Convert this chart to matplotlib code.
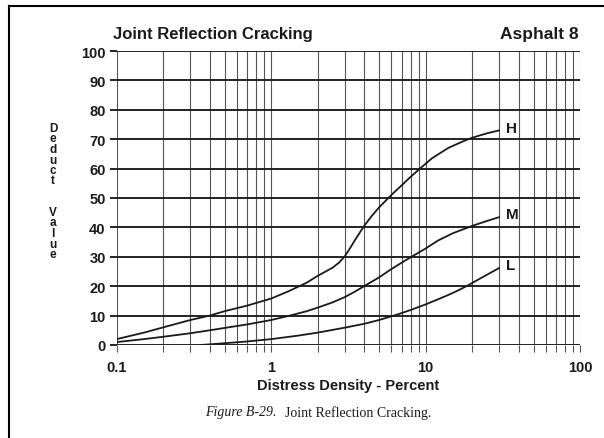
import numpy as np
import matplotlib.pyplot as plt
from matplotlib.lines import Line2D

# deduct value curves (distress density in percent, log scale)
h_density = [0.1, 0.15, 0.2, 0.3, 0.4, 0.5, 0.7, 1.0, 1.3, 1.7, 2.0, 2.5, 2.75, 3.0,
             3.25, 3.5, 4.0, 4.5, 5.0, 5.5, 6.0, 7.0, 8.0, 9.2, 11, 14, 17, 20, 25, 30]
h_deduct = [2, 4.2, 6, 8.5, 10, 11.5, 13.4, 15.8, 18.3, 21.2, 23.5, 26.3, 28, 30.2,
            33, 35.8, 40.5, 44, 46.8, 49, 51, 54.3, 57.2, 60, 63.5, 67, 69, 70.5, 72, 73]

m_density = [0.1, 0.15, 0.2, 0.3, 0.4, 0.5, 0.7, 1.0, 1.3, 1.7, 2.0, 2.5, 3.0, 3.5,
             4.0, 5.0, 6.0, 7.0, 8.1, 10, 12, 15, 20, 25, 30]
m_deduct = [1, 2, 2.8, 4, 5, 5.8, 7, 8.5, 9.9, 11.5, 12.7, 14.5, 16.3, 18.2,
            20, 23, 25.8, 28, 30, 32.8, 35.5, 38, 40.5, 42.2, 43.5]

l_density = [0.35, 0.5, 0.7, 1.0, 1.5, 2.0, 3.0, 4.0, 5.0, 6.5, 8.0, 10, 12, 14,
             16, 18.7, 22, 26, 30]
l_deduct = [0, 0.6, 1.2, 2, 3.2, 4.2, 5.9, 7.2, 8.5, 10.3, 11.9, 13.8, 15.5, 17,
            18.4, 20.2, 22.3, 24.4, 26.2]

curves = [('H', h_density, h_deduct), ('M', m_density, m_deduct), ('L', l_density, l_deduct)]

x_major = [0.1, 1, 10, 100]
x_labels = ['0.1', '1', '10', '100']
y_ticks = list(range(0, 101, 10))

sans = 'Liberation Sans'
serif = 'Liberation Serif'

fig = plt.figure(figsize=(6.04, 4.39), dpi=100)
W, H = 604, 439
ax = fig.add_axes([116.7 / W, 1 - 346 / H, (580 - 116.7) / W, (346 - 52) / H])

ax.set_xscale('log')
ax.set_xlim(0.1, 100)
ax.set_ylim(0, 100)

# grid: heavy horizontals, light verticals for every 1..9 per decade
minor = [m * d for d in [0.1, 1, 10] for m in range(2, 10)]
ax.set_xticks(x_major)
ax.set_xticklabels(x_labels)
ax.set_xticks(minor, minor=True)
ax.xaxis.set_minor_formatter(plt.NullFormatter())
ax.set_yticks(y_ticks)
ax.set_yticklabels([str(v) for v in y_ticks])
for xv in x_major + minor:
    ax.axvline(xv, color='#555555', lw=0.8, zorder=1)
for yv in y_ticks:
    ax.axhline(yv, color='#222222', lw=1.4, zorder=1)
for s in ax.spines.values():
    s.set_visible(False)

ax.tick_params(axis='x', which='both', direction='out', length=5, width=0.8,
               color='#555555', pad=6, labelsize=10.5)
ax.tick_params(axis='y', direction='out', length=5, width=1.4,
               color='#222222', pad=3, labelsize=10.5)
for lab in ax.get_xticklabels() + ax.get_yticklabels():
    lab.set_fontfamily(sans)
    lab.set_fontweight('bold')
    lab.set_color('#1a1a1a')

for name, xs, ys in curves:
    ax.plot(xs, ys, color='#1a1a1a', lw=1.3, zorder=3, solid_capstyle='round',
            solid_joinstyle='round')
    ax.annotate(name, (xs[-1], ys[-1]), xytext=(5, 2), textcoords='offset points',
                ha='left', va='center', fontsize=11, fontweight='bold',
                family=sans, color='#1a1a1a')

ax.set_xlabel('Distress Density - Percent', fontsize=10.5, fontweight='bold',
              family=sans, color='#1a1a1a', labelpad=3)

fig.text(113 / W, 1 - 35 / H, 'Joint Reflection Cracking', ha='left', va='center',
         fontsize=12, fontweight='bold', family=sans, color='#1a1a1a')
fig.text(579 / W, 1 - 35 / H, 'Asphalt 8', ha='right', va='center',
         fontsize=12.5, fontweight='bold', family=sans, color='#1a1a1a')

# stacked y-axis caption, one letter per line
for i, ch in enumerate('Deduct  Value'):
    if ch != ' ':
        fig.text(53 / W, 1 - (129 + i * 10.5) / H, ch, ha='center', va='center',
                 fontsize=8.5, fontweight='bold', family=sans, color='#1a1a1a')

fig.text(277 / W, 1 - 413 / H, 'Figure B-29.', ha='right', va='center',
         fontsize=10, style='italic', family=serif, color='#1a1a1a')
fig.text(285 / W, 1 - 413 / H, 'Joint Reflection Cracking.', ha='left', va='center',
         fontsize=10, family=serif, color='#1a1a1a')

# page frame along the top and left edges
fig.add_artist(Line2D([9 / W, 1], [1 - 7 / H, 1 - 7 / H], color='black', lw=1.5))
fig.add_artist(Line2D([9 / W, 9 / W], [0, 1 - 7 / H], color='black', lw=1.5))

fig.savefig('out.png', dpi=100)
